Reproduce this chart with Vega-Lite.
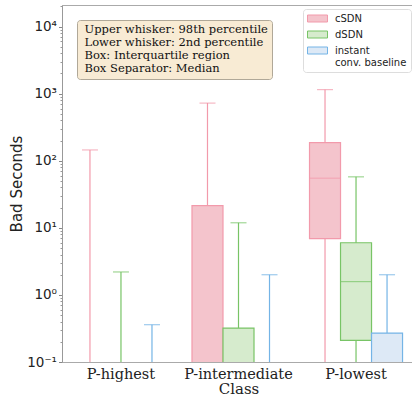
{
  "$schema": "https://vega.github.io/schema/vega-lite/v6.json",
  "width": 353,
  "height": 357,
  "autosize": {"type": "none"},
  "padding": {"left": 62, "top": 5, "right": 0, "bottom": 38},
  "background": "white",
  "config": {
    "view": {"stroke": "#aaaaaa", "strokeWidth": 1},
    "axis": {"grid": false}
  },
  "datasets": {
    "boxes": [
      {"class": "P-highest", "series": "cSDN", "lo": 0.01, "q1": null, "med": null, "q3": null, "hi": 145},
      {"class": "P-highest", "series": "dSDN", "lo": 0.01, "q1": null, "med": null, "q3": null, "hi": 2.2},
      {"class": "P-highest", "series": "instant conv. baseline", "lo": 0.01, "q1": null, "med": null, "q3": null, "hi": 0.36},
      {"class": "P-intermediate", "series": "cSDN", "lo": 0.01, "q1": 0.01, "med": null, "q3": 21.5, "hi": 724},
      {"class": "P-intermediate", "series": "dSDN", "lo": 0.01, "q1": 0.01, "med": null, "q3": 0.32, "hi": 11.9},
      {"class": "P-intermediate", "series": "instant conv. baseline", "lo": 0.01, "q1": null, "med": null, "q3": null, "hi": 2.0},
      {"class": "P-lowest", "series": "cSDN", "lo": 0.01, "q1": 6.9, "med": 55, "q3": 186, "hi": 1150},
      {"class": "P-lowest", "series": "dSDN", "lo": 0.01, "q1": 0.21, "med": 1.58, "q3": 6.0, "hi": 57.6},
      {"class": "P-lowest", "series": "instant conv. baseline", "lo": 0.01, "q1": 0.01, "med": null, "q3": 0.27, "hi": 2.0}
    ],
    "notes": [
      {"note": "Upper whisker: 98th percentile"},
      {"note": "Lower whisker: 2nd percentile"},
      {"note": "Box: Interquartile region"},
      {"note": "Box Separator: Median"}
    ]
  },
  "layer": [
    {
      "data": {"name": "boxes"},
      "encoding": {
        "x": {
          "field": "class", "type": "nominal", "title": "Class",
          "scale": {"domain": ["P-highest", "P-intermediate", "P-lowest"], "paddingInner": 0.2085, "paddingOuter": 0.106},
          "axis": {"labelAngle": 0, "ticks": false, "domain": false, "labelFont": "DejaVu Serif", "labelFontSize": 14.5, "labelColor": "#222222", "labelPadding": 5, "titleFont": "DejaVu Serif", "titleFontSize": 15, "titleFontWeight": "normal", "titleColor": "#222222", "titlePadding": 1}
        },
        "xOffset": {
          "field": "series", "type": "nominal",
          "scale": {"domain": ["cSDN", "dSDN", "instant conv. baseline"], "paddingInner": 0, "paddingOuter": 0}
        }
      },
      "layer": [
        {
          "mark": {"type": "rule", "clip": true, "strokeWidth": 1.2},
          "encoding": {
            "y": {
              "field": "lo", "type": "quantitative", "title": "Bad Seconds",
              "scale": {"type": "log", "domain": [0.1, 21000], "nice": false},
              "axis": {
                "orient": "left",
                "values": [0.1, 1, 10, 100, 1000, 10000],
                "labelExpr": "datum.value >= 9999 ? '10⁴' : datum.value >= 999 ? '10³' : datum.value >= 99 ? '10²' : datum.value >= 9 ? '10¹' : datum.value >= 0.9 ? '10⁰' : '10⁻¹'",
                "tickSize": 3.5, "tickColor": "#888888", "domainColor": "#999999",
                "labelFont": "DejaVu Sans", "labelFontSize": 13.5, "labelColor": "#222222", "labelPadding": 2,
                "titleFont": "DejaVu Sans", "titleFontSize": 15, "titleFontWeight": "normal", "titleColor": "#222222", "titlePadding": 2
              }
            },
            "y2": {"field": "hi"},
            "stroke": {
              "field": "series", "type": "nominal", "title": null,
              "scale": {"domain": ["cSDN", "dSDN", "instant conv. baseline"], "range": ["#f29aab", "#78c466", "#74b4e6"]}
            }
          }
        },
        {
          "mark": {"type": "bar", "clip": true, "strokeWidth": 1.2},
          "encoding": {
            "y": {
              "field": "q1", "type": "quantitative",
              "axis": {
                "orient": "left", "title": null, "labels": false, "domain": false,
                "values": [0.2, 0.3, 0.4, 0.5, 0.6, 0.7, 0.8, 0.9, 2, 3, 4, 5, 6, 7, 8, 9, 20, 30, 40, 50, 60, 70, 80, 90, 200, 300, 400, 500, 600, 700, 800, 900, 2000, 3000, 4000, 5000, 6000, 7000, 8000, 9000, 20000],
                "tickSize": 2, "tickColor": "#999999"
              }
            },
            "y2": {"field": "q3"},
            "fill": {
              "field": "series", "type": "nominal", "title": null,
              "scale": {"domain": ["cSDN", "dSDN", "instant conv. baseline"], "range": ["#f4c4cc", "#d6ebcd", "#dde9f6"]},
              "legend": {
                "orient": "top-right", "offset": 4,
                "symbolType": "M-1,-0.7H3V0.7H-1Z", "symbolSize": 100, "symbolStrokeWidth": 1,
                "labelFont": "DejaVu Sans", "labelFontSize": 10, "labelColor": "#222222", "labelOffset": 17,
                "labelExpr": "datum.label == 'instant conv. baseline' ? ['instant', '\u00a0conv. baseline'] : datum.label",
                "labelLimit": 200,
                "rowPadding": 5, "padding": 4,
                "fillColor": "white", "strokeColor": "#dddddd", "cornerRadius": 3,
                "encode": {"labels": {"update": {"lineHeight": {"value": 12}}}}
              }
            },
            "stroke": {"field": "series", "type": "nominal", "title": null}
          }
        },
        {
          "mark": {"type": "tick", "clip": true, "size": 31, "thickness": 1.2},
          "encoding": {
            "y": {"field": "med", "type": "quantitative", "axis": null},
            "color": {"field": "series", "type": "nominal", "title": null, "legend": null, "scale": {"domain": ["cSDN", "dSDN", "instant conv. baseline"], "range": ["#f29aab", "#78c466", "#74b4e6"]}}
          }
        },
        {
          "mark": {"type": "tick", "clip": true, "size": 16, "thickness": 1.2},
          "encoding": {
            "y": {"field": "hi", "type": "quantitative", "axis": null},
            "color": {"field": "series", "type": "nominal", "title": null, "legend": null}
          }
        }
      ],
      "resolve": {"axis": {"y": "independent"}}
    },
    {
      "data": {"name": "notes"},
      "mark": {"type": "point", "opacity": 0},
      "encoding": {
        "shape": {
          "field": "note", "type": "nominal", "title": null,
          "scale": {"domain": ["Upper whisker: 98th percentile", "Lower whisker: 2nd percentile", "Box: Interquartile region", "Box Separator: Median"]},
          "legend": {
            "orient": "top-left", "offset": 15,
            "symbolSize": 0, "symbolOpacity": 0, "symbolStrokeWidth": 0, "labelOffset": -8,
            "labelFont": "DejaVu Serif", "labelFontSize": 11.5, "labelColor": "#111111", "labelLimit": 300,
            "rowPadding": 0, "padding": 4,
            "fillColor": "#f8ebd4", "strokeColor": "#b0a898", "cornerRadius": 3
          }
        }
      }
    }
  ]
}
